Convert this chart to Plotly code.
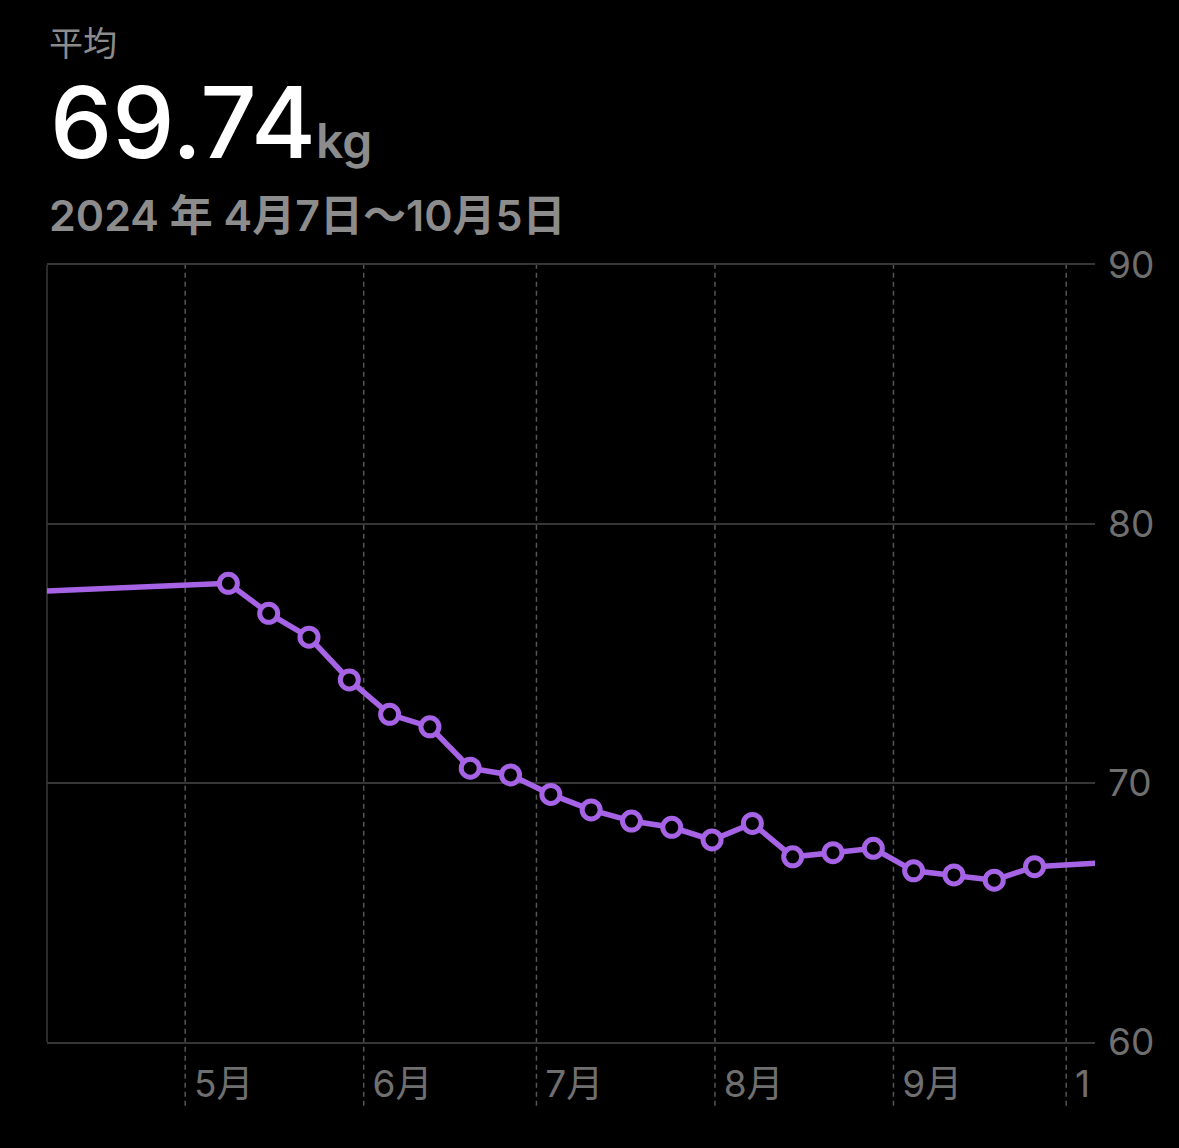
import plotly.graph_objects as go

# weekly averages (week centre), kg
week_dates = [
    "2024-05-08 12:00", "2024-05-15 12:00", "2024-05-22 12:00", "2024-05-29 12:00",
    "2024-06-05 12:00", "2024-06-12 12:00", "2024-06-19 12:00", "2024-06-26 12:00",
    "2024-07-03 12:00", "2024-07-10 12:00", "2024-07-17 12:00", "2024-07-24 12:00",
    "2024-07-31 12:00", "2024-08-07 12:00", "2024-08-14 12:00", "2024-08-21 12:00",
    "2024-08-28 12:00", "2024-09-04 12:00", "2024-09-11 12:00", "2024-09-18 12:00",
    "2024-09-25 12:00",
]
week_kg = [
    77.71, 76.55, 75.63, 73.98, 72.65, 72.17, 70.57, 70.31, 69.56, 68.96, 68.53,
    68.29, 67.80, 68.44, 67.15, 67.31, 67.48, 66.61, 66.45, 66.25, 66.77,
]

# neighbouring weeks outside the visible range (line only)
before_date, before_kg = "2024-04-03 12:00", 77.38
after_date, after_kg = "2024-10-09 12:00", 66.95

month_starts = ["2024-05-01", "2024-06-01", "2024-07-01", "2024-08-01", "2024-09-01", "2024-10-01"]
month_labels = ["5月", "6月", "7月", "8月", "9月", "1"]
y_ticks = [60, 70, 80, 90]

average_text = "69.74"
range_text = "2024 年 4月7日〜10月5日"

PURPLE = "#A763E6"
GREY_TXT = "#8c8c8c"
AXIS_TXT = "#6f6f6f"
GRID = "#363636"
FONT = "Inter, 'Noto Sans CJK JP', sans-serif"

fig = go.Figure()

# line, continuing to the hidden neighbours at both edges
fig.add_trace(go.Scatter(
    x=[before_date] + week_dates + [after_date],
    y=[before_kg] + week_kg + [after_kg],
    mode="lines",
    line=dict(color=PURPLE, width=5.5),
    hoverinfo="skip",
))
fig.add_trace(go.Scatter(
    x=week_dates, y=week_kg,
    mode="markers",
    marker=dict(size=18, color="black", line=dict(color=PURPLE, width=5)),
))

# dashed month lines, running down past the axis
for d in month_starts:
    fig.add_shape(type="line", xref="x", yref="paper", x0=d, x1=d, y0=-0.082, y1=1,
                  line=dict(color="#555555", width=1.5, dash="5px,4px"), layer="below")
# left border
fig.add_shape(type="line", xref="paper", yref="paper", x0=0, x1=0, y0=0, y1=1,
              line=dict(color="#3a3a3a", width=1.5), layer="below")

# header
fig.add_annotation(text="平均", xref="paper", yref="paper", x=0.0, y=1.314,
                   xanchor="left", yanchor="top", showarrow=False,
                   font=dict(family=FONT, size=34, color=GREY_TXT))
fig.add_annotation(
    text=average_text + f"<span style='font-size:48px;color:{GREY_TXT};font-weight:600'>kg</span>",
    xref="paper", yref="paper", x=0.001, y=1.264,
    xanchor="left", yanchor="top", showarrow=False,
    font=dict(family=FONT, size=99, color="white", weight=500))
fig.add_annotation(text=range_text, xref="paper", yref="paper", x=0.0, y=1.1,
                   xanchor="left", yanchor="top", showarrow=False,
                   font=dict(family=FONT, size=43, color=GREY_TXT, weight=600))

fig.update_layout(
    width=1179, height=1148, autosize=False,
    paper_bgcolor="black", plot_bgcolor="black",
    margin=dict(l=47, r=84, t=265, b=106),
    showlegend=False,
    font=dict(family=FONT, color=AXIS_TXT),
    xaxis=dict(
        type="date", range=["2024-04-07", "2024-10-06"],
        tickvals=month_starts, ticktext=month_labels,
        ticklabelposition="outside right", ticklabelshift=8, ticklabelstandoff=9,
        showgrid=False, zeroline=False, ticks="",
        showline=True, mirror=True, linecolor=GRID, linewidth=1.5,
        tickfont=dict(size=37, color=AXIS_TXT),
    ),
    yaxis=dict(
        range=[60, 90], side="right", tickvals=y_ticks,
        showgrid=True, gridcolor=GRID, gridwidth=1.5,
        zeroline=False, showline=False, ticks="", ticklabelstandoff=12,
        tickfont=dict(size=37, color=AXIS_TXT),
    ),
)

fig.write_html(
    "out.html",
    config={"displayModeBar": False},
    post_script="document.body.style.margin='0';document.body.style.background='black';"
                "document.body.style.overflow='hidden';",
)
